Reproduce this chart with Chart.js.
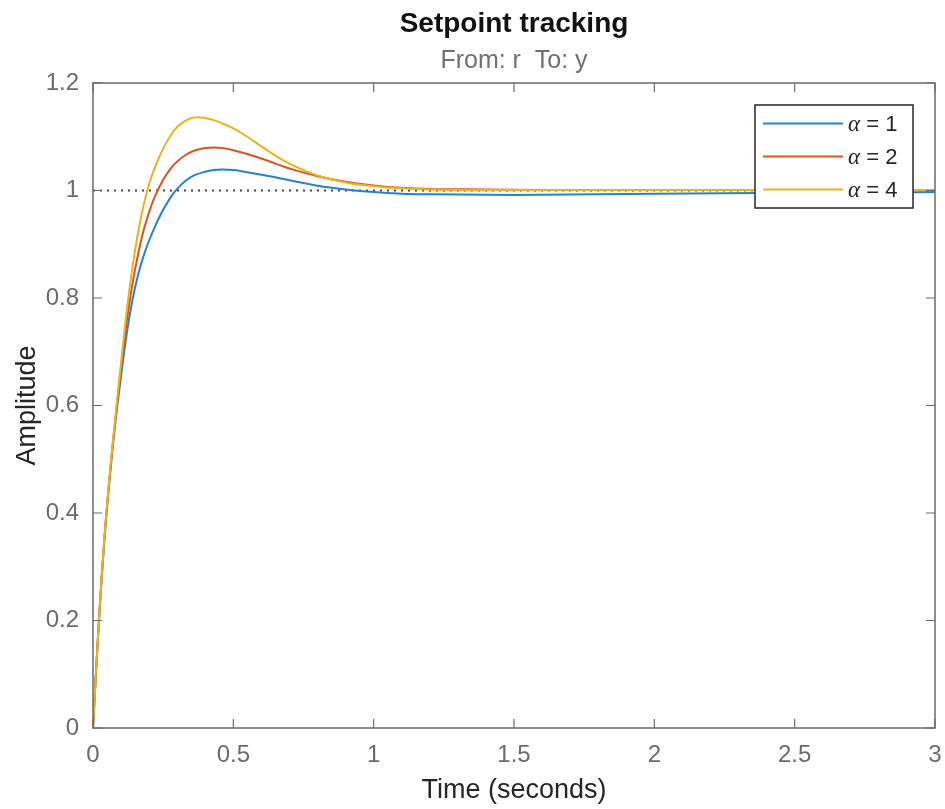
<!DOCTYPE html>
<html>
<head>
<meta charset="utf-8">
<script src="https://cdn.jsdelivr.net/npm/chart.js@4.4.0/dist/chart.umd.min.js"></script>
<style>
  html, body { margin: 0; padding: 0; background: #fff; }
  #wrap { width: 945px; height: 809px; }
</style>
</head>
<body>
<div id="wrap"><canvas id="grafico" width="945" height="809"></canvas></div>
<script>
// dados (resposta ao degrau r -> y)
const tempo = [0, 0.02, 0.04, 0.06, 0.08, 0.1, 0.12, 0.14, 0.16, 0.18, 0.2, 0.22, 0.25, 0.28, 0.3, 0.33, 0.36, 0.4, 0.43, 0.46,
  0.5, 0.55, 0.6, 0.65, 0.7, 0.8, 0.9, 1.0, 1.1, 1.2, 1.4, 1.6, 1.8, 2.0, 2.25, 2.5, 2.75, 3.0];

const respAlpha1 = [0, 0.19, 0.345, 0.468, 0.57, 0.655, 0.733, 0.795, 0.842, 0.878, 0.907, 0.932, 0.964, 0.99, 1.003, 1.018, 1.028, 1.035, 1.038, 1.039,
  1.038, 1.034, 1.0295, 1.0245, 1.019, 1.009, 1.002, 0.997, 0.994, 0.993, 0.992, 0.992, 0.993, 0.994, 0.995, 0.996, 0.996, 0.997];

const respAlpha2 = [0, 0.19, 0.348, 0.472, 0.575, 0.67, 0.755, 0.825, 0.88, 0.925, 0.96, 0.988, 1.02, 1.043, 1.054, 1.066, 1.074, 1.079, 1.080, 1.079,
  1.075, 1.068, 1.0595, 1.050, 1.041, 1.0265, 1.0165, 1.0095, 1.005, 1.003, 1.002, 1.001, 1.001, 1.001, 1.001, 1.001, 1.001, 1.001];

const respAlpha4 = [0, 0.19, 0.35, 0.475, 0.58, 0.68, 0.775, 0.855, 0.92, 0.972, 1.012, 1.042, 1.078, 1.105, 1.118, 1.130, 1.136, 1.135, 1.131, 1.125,
  1.1155, 1.100, 1.082, 1.065, 1.050, 1.028, 1.015, 1.008, 1.004, 1.002, 1.001, 1.001, 1.001, 1.001, 1.001, 1.001, 1.001, 1.001];

const rotulos = ['\u03b1 = 1', '\u03b1 = 2', '\u03b1 = 4'];
const xTicks = [0, 0.5, 1, 1.5, 2, 2.5, 3];
const yTicks = [0, 0.2, 0.4, 0.6, 0.8, 1, 1.2];
const referencia = 1;

const FONTE = '"Liberation Sans", Arial, Helvetica, sans-serif';
const corEixo = '#6b6b6b';

const pontos = (ys) => tempo.map((t, i) => ({ x: t, y: ys[i] }));

// caixa, ticks para dentro, título e legenda (estilo MATLAB)
const moldura = {
  id: 'moldura',
  afterDatasetsDraw(chart) {
    const { ctx, chartArea: a, scales } = chart;
    ctx.save();
    ctx.strokeStyle = corEixo;
    ctx.lineWidth = 1.5;
    ctx.strokeRect(a.left, a.top, a.right - a.left, a.bottom - a.top);
    ctx.lineWidth = 1.2;
    ctx.beginPath();
    xTicks.forEach(v => {
      const px = scales.x.getPixelForValue(v);
      ctx.moveTo(px, a.bottom); ctx.lineTo(px, a.bottom - 9);
      ctx.moveTo(px, a.top); ctx.lineTo(px, a.top + 9);
    });
    yTicks.forEach(v => {
      const py = scales.y.getPixelForValue(v);
      ctx.moveTo(a.left, py); ctx.lineTo(a.left + 9, py);
      ctx.moveTo(a.right, py); ctx.lineTo(a.right - 9, py);
    });
    ctx.stroke();
    ctx.restore();
  },
  afterDraw(chart) {
    const { ctx, chartArea: a } = chart;
    const cx = (a.left + a.right) / 2;
    ctx.save();
    ctx.textAlign = 'center';
    ctx.textBaseline = 'alphabetic';
    ctx.fillStyle = '#111';
    ctx.font = 'bold 28px ' + FONTE;
    ctx.fillText('Setpoint tracking', cx, 32);
    ctx.fillStyle = '#707070';
    ctx.font = '25px ' + FONTE;
    ctx.fillText('From: r  To: y', cx, 68);

    //legenda
    const series = chart.data.datasets.filter(d => d.label);
    const w = 158, h = 103;
    const lx = a.right - 22 - w, ly = a.top + 22;
    ctx.fillStyle = '#fff';
    ctx.fillRect(lx, ly, w, h);
    ctx.strokeStyle = '#262626';
    ctx.lineWidth = 1.5;
    ctx.strokeRect(lx, ly, w, h);
    ctx.textAlign = 'left';
    ctx.textBaseline = 'middle';
    series.forEach((d, i) => {
      const y = ly + 18.5 + i * 33;
      ctx.strokeStyle = d.borderColor;
      ctx.lineWidth = d.borderWidth;
      ctx.beginPath();
      ctx.moveTo(lx + 8, y); ctx.lineTo(lx + 88, y);
      ctx.stroke();
      ctx.fillStyle = '#262626';
      const [letra, resto] = [d.label.slice(0, 1), d.label.slice(1)];
      ctx.font = 'italic 23px "Liberation Serif", "DejaVu Serif", serif';
      ctx.fillText(letra, lx + 93, y + 1);
      const wl = ctx.measureText(letra).width;
      ctx.font = '22px ' + FONTE;
      ctx.fillText(resto, lx + 93 + wl, y + 1);
    });
    ctx.restore();
  }
};

const ctx = document.getElementById('grafico').getContext('2d');
const grafico = new Chart(ctx, {
  type: 'line',
  data: {
    datasets: [
      {
        label: rotulos[0],
        data: pontos(respAlpha1),
        borderColor: '#2582d0',
        borderWidth: 2,
        order: 3
      },
      {
        label: rotulos[1],
        data: pontos(respAlpha2),
        borderColor: '#d9541e',
        borderWidth: 2,
        order: 2
      },
      {
        label: rotulos[2],
        data: pontos(respAlpha4),
        borderColor: '#edb120',
        borderWidth: 2,
        order: 1
      },
      {
        label: '',
        data: [{ x: xTicks[0], y: referencia }, { x: xTicks[xTicks.length - 1], y: referencia }],
        borderColor: '#444',
        borderWidth: 2,
        borderDash: [2, 5],
        tension: 0,
        order: 10
      }
    ]
  },
  options: {
    responsive: false,
    animation: false,
    devicePixelRatio: 1,
    layout: { padding: { top: 83, right: 10, left: 0, bottom: 0 } },
    elements: {
      point: { radius: 0, hoverRadius: 0 },
      line: { tension: 0.4, fill: false }
    },
    scales: {
      x: {
        type: 'linear',
        min: 0,
        max: 3,
        afterBuildTicks: (s) => { s.ticks = xTicks.map(v => ({ value: v })); },
        afterFit: (s) => { s.height = 81; s.paddingLeft = 0; s.paddingRight = 0; },
        grid: { display: false, drawTicks: false },
        border: { display: false },
        ticks: { color: corEixo, font: { family: FONTE, size: 24 }, padding: 13, maxRotation: 0, callback: v => String(v) },
        title: { display: true, text: 'Time (seconds)', color: '#262626', font: { family: FONTE, size: 27 }, padding: { top: 0, bottom: 2 } }
      },
      y: {
        type: 'linear',
        min: 0,
        max: 1.2,
        afterBuildTicks: (s) => { s.ticks = yTicks.map(v => ({ value: v })); },
        afterFit: (s) => { s.width = 93; s.paddingTop = 0; s.paddingBottom = 0; },
        grid: { display: false, drawTicks: false },
        border: { display: false },
        ticks: { color: corEixo, font: { family: FONTE, size: 24 }, padding: 14, callback: v => String(v) },
        title: { display: true, text: 'Amplitude', color: '#262626', font: { family: FONTE, size: 27 }, padding: { top: 11, bottom: 0 } }
      }
    },
    plugins: {
      legend: { display: false },
      title: { display: false },
      tooltip: { enabled: false }
    }
  },
  plugins: [moldura]
});
</script>
</body>
</html>
